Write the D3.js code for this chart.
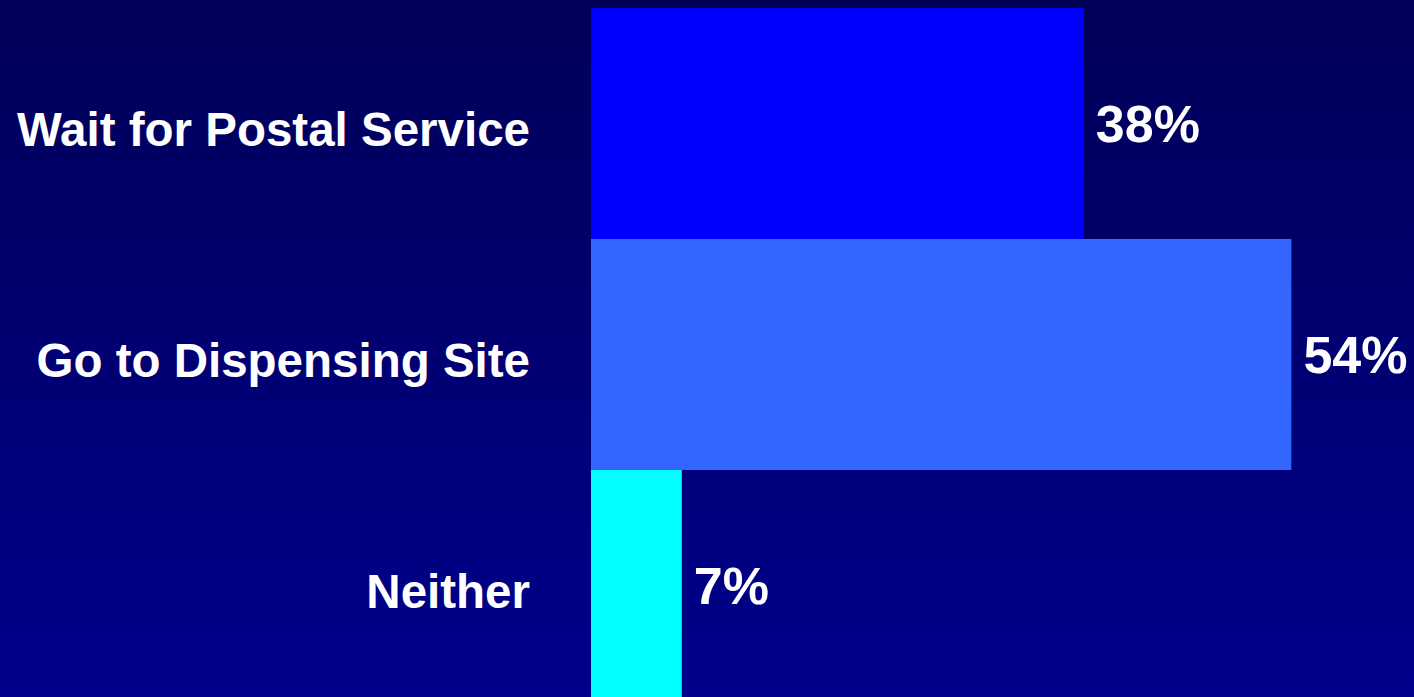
<!DOCTYPE html>
<html>
<head>
<meta charset="utf-8">
<script src="https://cdn.jsdelivr.net/npm/d3@7/dist/d3.min.js"></script>
<style>
  html, body { margin: 0; padding: 0; overflow: hidden; background: #000070; }
  svg { display: block; }
</style>
</head>
<body>
<script>
// Survey answers: how people would obtain their medication
const categories = ["Wait for Postal Service", "Go to Dispensing Site", "Neither"];
const percents = [38, 54, 7];
const barColors = ["#0000FF", "#3366FF", "#00FFFF"];

const width = 1414, height = 697;

const svg = d3.select("body").append("svg")
  .attr("width", width)
  .attr("height", height);

// Navy background fading lighter toward the bottom
const grad = svg.append("defs").append("linearGradient")
  .attr("id", "bg").attr("x1", 0).attr("y1", 0).attr("x2", 0).attr("y2", 1);
grad.append("stop").attr("offset", "0%").attr("stop-color", "#000058");
grad.append("stop").attr("offset", "100%").attr("stop-color", "#00008C");
svg.append("rect").attr("width", width).attr("height", height).attr("fill", "url(#bg)");

const x = d3.scaleLinear().domain([0, 100]).range([591, 1888]);
const y = d3.scaleBand().domain(categories).range([8, 701]).padding(0);

const rows = categories.map((c, i) => ({ cat: c, value: percents[i], color: barColors[i] }));

// Bars
svg.append("g").selectAll("rect")
  .data(rows)
  .join("rect")
  .attr("x", x(0))
  .attr("y", d => y(d.cat))
  .attr("width", d => x(d.value) - x(0))
  .attr("height", y.bandwidth())
  .attr("fill", d => d.color);

const font = "'Liberation Sans', Arial, Helvetica, sans-serif";
const catSize = 47.5, valSize = 52;

// Category labels, right-aligned left of the bars
svg.append("g").selectAll("text")
  .data(rows)
  .join("text")
  .attr("x", 530)
  .attr("y", d => y(d.cat) + y.bandwidth() / 2 + 0.358 * catSize + 5)
  .attr("text-anchor", "end")
  .attr("fill", "#FFFFFF")
  .attr("font-family", font)
  .attr("font-weight", "bold")
  .attr("font-size", catSize)
  .text(d => d.cat);

// Value labels at the end of each bar
svg.append("g").selectAll("text")
  .data(rows)
  .join("text")
  .attr("x", d => x(d.value) + 12)
  .attr("y", d => y(d.cat) + y.bandwidth() / 2 + 0.358 * valSize)
  .attr("text-anchor", "start")
  .attr("fill", "#FFFFFF")
  .attr("font-family", font)
  .attr("font-weight", "bold")
  .attr("font-size", valSize)
  .text(d => d.value + "%");
</script>
</body>
</html>
